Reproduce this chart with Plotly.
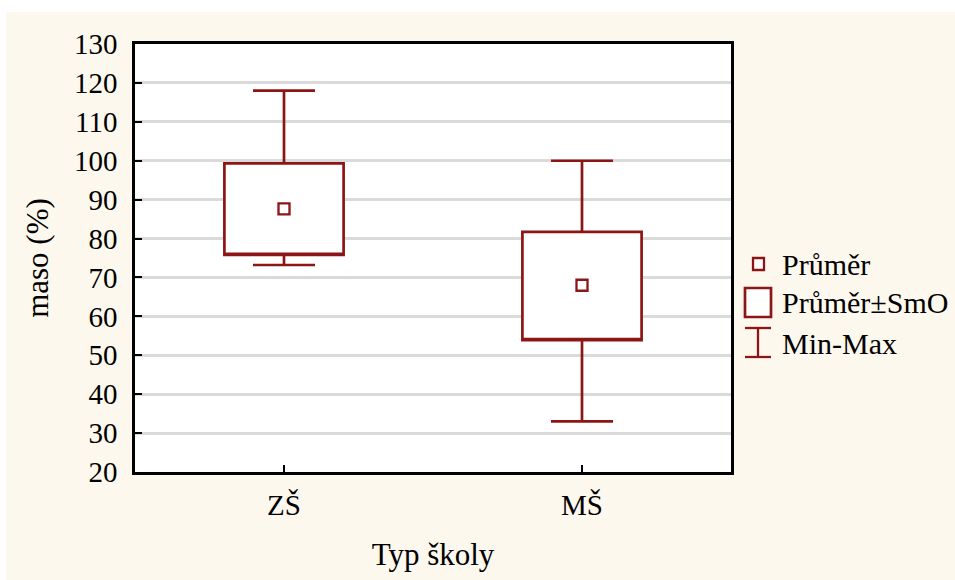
import plotly.graph_objects as go

categories = ["ZŠ", "MŠ"]
mean_vals = [87.6, 68.0]
se_low = [75.8, 53.9]
se_high = [99.3, 81.7]
min_vals = [73.2, 33.0]
max_vals = [118.0, 100.0]
y_ticks = [20, 30, 40, 50, 60, 70, 80, 90, 100, 110, 120, 130]
legend_labels = ["Průměr", "Průměr±SmO", "Min-Max"]

RED = "#8C1515"
FONT = "Liberation Serif"
xpos = list(range(len(categories)))

fig = go.Figure()
fig.add_trace(go.Box(
    x=xpos, q1=se_low, median=se_low, q3=se_high,
    lowerfence=min_vals, upperfence=max_vals,
    width=0.4, whiskerwidth=0.52, fillcolor="white",
    line=dict(color=RED, width=2.7), boxpoints=False,
    showlegend=False, hoverinfo="skip",
))
fig.add_trace(go.Scatter(
    x=xpos, y=mean_vals, mode="markers",
    marker=dict(symbol="square", size=11, color="white",
                line=dict(color=RED, width=2.3)),
    showlegend=False, hoverinfo="skip",
))

def px(x):
    return (x - 135) / 596

def py(y):
    return (472 - y) / 428

shapes = [
    dict(type="rect", xref="paper", yref="paper", x0=px(6), x1=px(960),
         y0=py(585), y1=py(12), fillcolor="#FDF8EE", line=dict(width=0),
         layer="below"),
    dict(type="rect", xref="paper", yref="paper", x0=0, x1=1, y0=0, y1=1,
         fillcolor="white", line=dict(width=0), layer="below"),
    # legend symbols
    dict(type="rect", xref="paper", yref="paper", x0=px(753), x1=px(764),
         y0=py(270), y1=py(258), fillcolor="white", line=dict(color=RED, width=2.3)),
    dict(type="rect", xref="paper", yref="paper", x0=px(745), x1=px(771),
         y0=py(317), y1=py(288), fillcolor="white", line=dict(color=RED, width=2.7)),
    dict(type="line", xref="paper", yref="paper", x0=px(758), x1=px(758),
         y0=py(357), y1=py(328), line=dict(color=RED, width=2.3)),
    dict(type="line", xref="paper", yref="paper", x0=px(745), x1=px(771),
         y0=py(328), y1=py(328), line=dict(color=RED, width=2.3)),
    dict(type="line", xref="paper", yref="paper", x0=px(745), x1=px(771),
         y0=py(357), y1=py(357), line=dict(color=RED, width=2.3)),
]

annotations = []
for lab, yy in zip(legend_labels, [264, 302, 343]):
    annotations.append(dict(
        text=lab, xref="paper", yref="paper", x=px(780), y=py(yy),
        xanchor="left", yanchor="middle", showarrow=False,
        font=dict(family=FONT, size=30, color="black"),
    ))

fig.update_layout(
    width=955, height=580,
    margin=dict(l=135, r=224, t=44, b=108),
    paper_bgcolor="white", plot_bgcolor="white",
    shapes=shapes, annotations=annotations,
    font=dict(family=FONT, size=29, color="black"),
    showlegend=False,
)
fig.update_xaxes(
    range=[-0.5, 1.5], tickvals=xpos, ticktext=categories,
    showgrid=False, zeroline=False,
    showline=True, linecolor="black", linewidth=2.5, mirror=True,
    ticks="inside", ticklen=7, tickwidth=2, tickcolor="black",
    ticklabelstandoff=5,
    title=dict(text="Typ školy", font=dict(family=FONT, size=31), standoff=24),
)
fig.update_yaxes(
    range=[20, 130], tickvals=y_ticks,
    showgrid=True, gridcolor="#DADADA", gridwidth=2.5, zeroline=False,
    showline=True, linecolor="black", linewidth=2.5, mirror=True,
    ticks="inside", ticklen=7, tickwidth=2, tickcolor="black",
    ticklabelstandoff=9,
    title=dict(text="maso (%)", font=dict(family=FONT, size=31), standoff=17),
)

fig.write_html("out.html")
